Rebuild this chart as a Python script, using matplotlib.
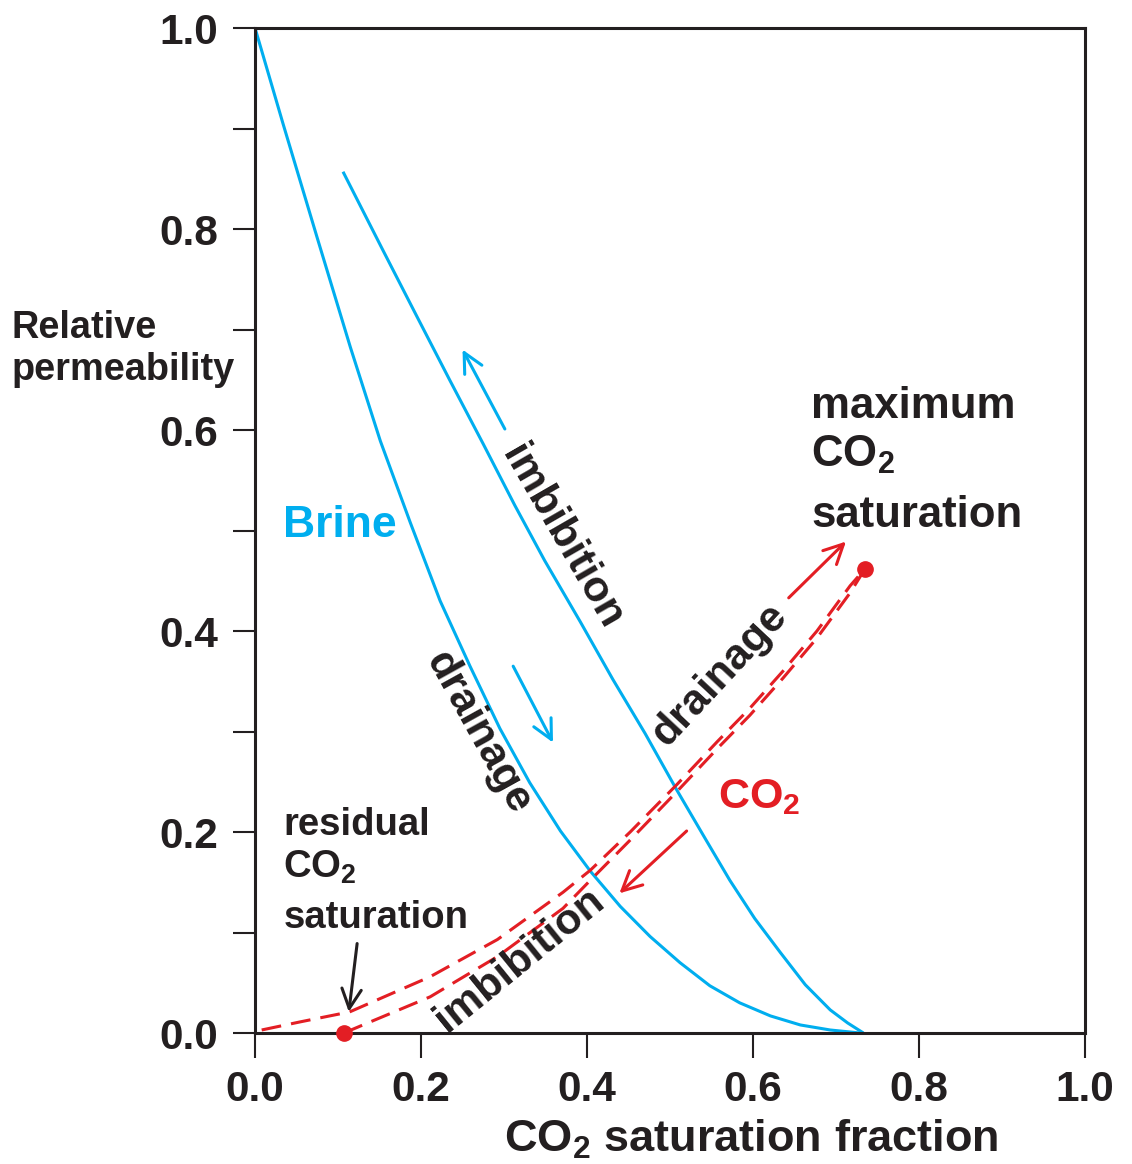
import numpy as np
import matplotlib
matplotlib.use("Agg")
import matplotlib.pyplot as plt

# relative permeability curves
sat_brine_drain = [0.0, 0.034, 0.075, 0.115, 0.151, 0.187, 0.223, 0.259, 0.295,
                   0.331, 0.368, 0.404, 0.440, 0.476, 0.512, 0.548, 0.584,
                   0.621, 0.657, 0.693, 0.729]
kr_brine_drain = [1.0, 0.904, 0.791, 0.682, 0.589, 0.508, 0.430, 0.365, 0.303,
                  0.249, 0.201, 0.161, 0.126, 0.096, 0.070, 0.047, 0.030,
                  0.017, 0.008, 0.003, 0.0]

sat_brine_imb = [0.106, 0.154, 0.195, 0.235, 0.275, 0.313, 0.349, 0.392, 0.431,
                 0.470, 0.508, 0.542, 0.572, 0.602, 0.633, 0.663, 0.693,
                 0.714, 0.733]
kr_brine_imb = [0.857, 0.779, 0.713, 0.649, 0.586, 0.525, 0.470, 0.409, 0.352,
                0.298, 0.242, 0.194, 0.152, 0.114, 0.080, 0.048, 0.023,
                0.010, 0.0]

sat_co2_drain = [0.008, 0.054, 0.114, 0.211, 0.292, 0.371, 0.404, 0.452, 0.508,
                 0.557, 0.596, 0.636, 0.677, 0.717, 0.735]
kr_co2_drain = [0.003, 0.011, 0.021, 0.056, 0.093, 0.14, 0.162, 0.20, 0.247,
                0.29, 0.323, 0.36, 0.40, 0.445, 0.462]

sat_co2_imb = [0.107, 0.13, 0.211, 0.292, 0.371, 0.404, 0.452, 0.508, 0.557,
               0.596, 0.636, 0.677, 0.717, 0.735]
kr_co2_imb = [0.0, 0.008, 0.036, 0.076, 0.124, 0.152, 0.192, 0.240, 0.283,
              0.316, 0.353, 0.393, 0.438, 0.462]

# residual and maximum CO2 saturation points
end_sat = [0.107, 0.735]
end_kr = [0.0, 0.462]

x_ticks = [0.0, 0.2, 0.4, 0.6, 0.8, 1.0]
x_tick_labels = ['0.0', '0.2', '0.4', '0.6', '0.8', '1.0']
y_ticks = [0.0, 0.1, 0.2, 0.3, 0.4, 0.5, 0.6, 0.7, 0.8, 0.9, 1.0]
y_tick_labels = ['0.0', '', '0.2', '', '0.4', '', '0.6', '', '0.8', '', '1.0']

BLUE = '#00AEEF'
RED = '#E31E24'
BLACK = '#231F20'

plt.rcParams['font.family'] = ['Liberation Sans', 'DejaVu Sans']
plt.rcParams['font.weight'] = 'bold'
plt.rcParams['mathtext.fontset'] = 'custom'
plt.rcParams['mathtext.rm'] = 'Liberation Sans:bold'
plt.rcParams['mathtext.it'] = 'Liberation Sans:bold'
plt.rcParams['mathtext.bf'] = 'Liberation Sans:bold'

fig = plt.figure(figsize=(11.32, 11.64), dpi=100)
ax = fig.add_axes([0.2253, 0.11254, 0.7332, 0.8634])

# curves
ax.plot(sat_brine_drain, kr_brine_drain, color=BLUE, lw=2.2, solid_capstyle='butt',
        solid_joinstyle='round')
ax.plot(sat_brine_imb, kr_brine_imb, color=BLUE, lw=2.2, solid_capstyle='butt',
        solid_joinstyle='round')
ax.plot(sat_co2_drain, kr_co2_drain, color=RED, lw=2.2, ls=(0, (6.5, 3.3)))
ax.plot(sat_co2_imb, kr_co2_imb, color=RED, lw=2.2, ls=(0, (6.5, 3.3)))
ax.plot(end_sat, end_kr, 'o', color=RED, ms=11, clip_on=False, zorder=5)

# direction arrows
def arrow(tail, tip, color):
    ax.annotate('', xy=tip, xytext=tail,
                arrowprops=dict(arrowstyle='->,head_length=0.7,head_width=0.35',
                                color=color, lw=2.2, shrinkA=0, shrinkB=0,
                                mutation_scale=20))

arrow((0.301, 0.601), (0.25, 0.68), BLUE)
arrow((0.311, 0.365), (0.359, 0.289), BLUE)
arrow((0.643, 0.433), (0.712, 0.489), RED)
arrow((0.520, 0.201), (0.439, 0.139), RED)
arrow((0.123, 0.089), (0.113, 0.021), BLACK)

# labels
ax.text(0.034, 0.4935, 'Brine', color=BLUE, fontsize=32, va='baseline')
ax.text(0.558, 0.224, 'CO$_2$', color=RED, fontsize=31, va='baseline')

for y, s in zip([0.612, 0.563, 0.5035], ['maximum', 'CO$_2$', 'saturation']):
    ax.text(0.670, y, s, color=BLACK, fontsize=31.5, va='baseline')
for y, s in zip([0.197, 0.155, 0.1045], ['residual', 'CO$_2$', 'saturation']):
    ax.text(0.034, y, s, color=BLACK, fontsize=27.5, va='baseline')

rot_kw = dict(color=BLACK, fontsize=31, ha='center', va='center', rotation_mode='anchor')
ax.text(0.370, 0.4935, 'imbibition', rotation=-60, **rot_kw)
ax.text(0.269, 0.2985, 'drainage', rotation=-61, **rot_kw)
ax.text(0.560, 0.356, 'drainage', rotation=47, **rot_kw)
ax.text(0.319, 0.0726, 'imbibition', rotation=39, **rot_kw)

# axes
ax.set_xlim(0, 1)
ax.set_ylim(0, 1)
ax.set_xticks(x_ticks)
ax.set_xticklabels(x_tick_labels)
ax.set_yticks(y_ticks)
ax.set_yticklabels(y_tick_labels)
ax.tick_params(axis='both', direction='out', width=1.5, labelsize=30.5,
               colors=BLACK, labelcolor=BLACK)
ax.tick_params(axis='x', length=18, pad=8.5)
ax.tick_params(axis='y', length=16, pad=10.5)
for sp in ax.spines.values():
    sp.set_linewidth(2.2)
    sp.set_color(BLACK)

fig.text(12 / 1132, 1 - 338 / 1164, 'Relative', fontsize=27.3, color=BLACK, va='baseline')
fig.text(12 / 1132, 1 - 380 / 1164, 'permeability', fontsize=27.3, color=BLACK, va='baseline')
fig.text(751 / 1132, 1 - 1152 / 1164, 'CO$_2$ saturation fraction', fontsize=32.5,
         color=BLACK, ha='center', va='baseline')

fig.savefig('out.png', dpi=100)
